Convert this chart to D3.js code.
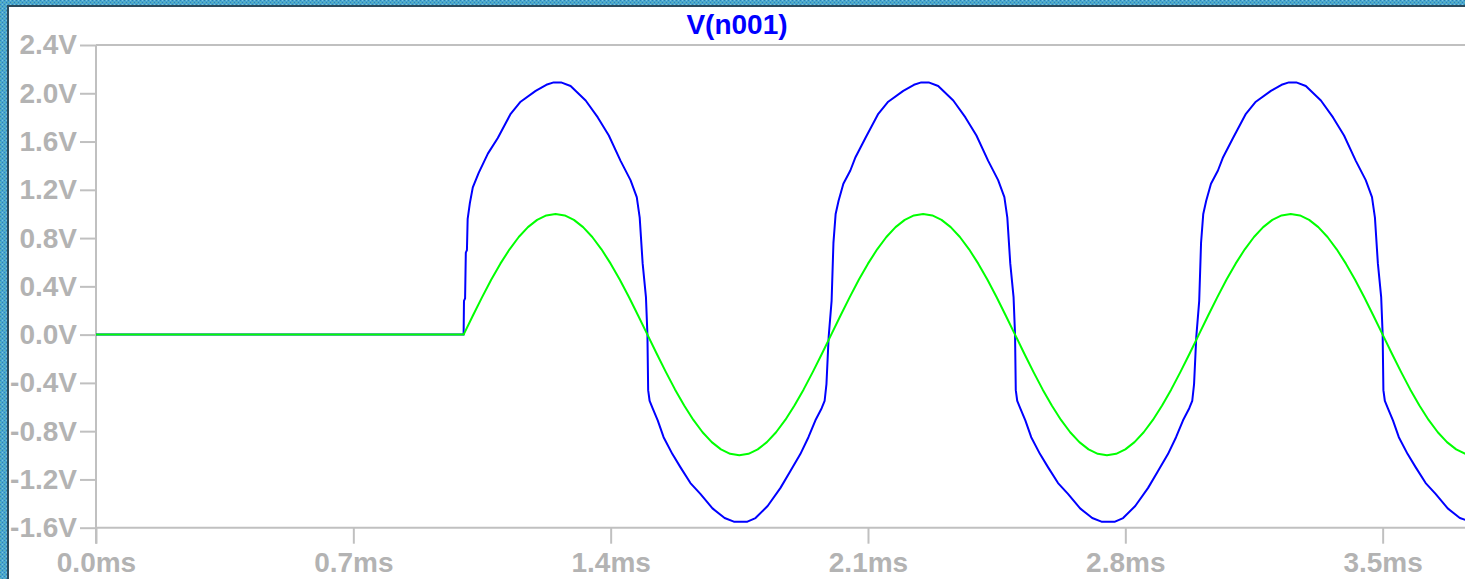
<!DOCTYPE html>
<html>
<head>
<meta charset="utf-8">
<script src="https://cdn.jsdelivr.net/npm/d3@7"></script>
<style>
  html, body { margin: 0; padding: 0; background: #ffffff; overflow: hidden; }
  svg { display: block; }
</style>
</head>
<body>
<svg id="chart" width="1465" height="579"></svg>
<script>
// ---------------- data ----------------
const chartTitle = "V(n001)";
const yTickValues = [2.4, 2.0, 1.6, 1.2, 0.8, 0.4, 0.0, -0.4, -0.8, -1.2, -1.6];
const yTickLabels = ["2.4V", "2.0V", "1.6V", "1.2V", "0.8V", "0.4V", "0.0V", "-0.4V", "-0.8V", "-1.2V", "-1.6V"];
const xTickValues = [0.0, 0.7, 1.4, 2.1, 2.8, 3.5];
const xTickLabels = ["0.0ms", "0.7ms", "1.4ms", "2.1ms", "2.8ms", "3.5ms"];

// blue trace V(n001): [time (ms), volts]
const blueSeries = [
  [0.000, 0.00], [1.000, 0.00], [1.001, 0.28], [1.004, 0.30], [1.006, 0.68], [1.009, 0.70],
  [1.011, 0.96], [1.017, 1.09], [1.025, 1.22], [1.041, 1.34], [1.066, 1.50], [1.093, 1.63],
  [1.128, 1.83], [1.155, 1.93], [1.196, 2.02], [1.225, 2.07], [1.245, 2.09], [1.265, 2.09],
  [1.291, 2.06], [1.332, 1.94], [1.365, 1.80], [1.395, 1.65], [1.427, 1.44], [1.454, 1.28],
  [1.471, 1.14], [1.479, 0.97], [1.487, 0.59], [1.496, 0.31], [1.500, 0.00], [1.502, -0.46],
  [1.506, -0.55], [1.514, -0.61], [1.528, -0.71], [1.544, -0.85], [1.568, -0.99], [1.590, -1.10],
  [1.617, -1.23], [1.644, -1.32], [1.677, -1.44], [1.710, -1.52], [1.735, -1.55], [1.772, -1.55],
  [1.794, -1.52], [1.827, -1.42], [1.862, -1.27], [1.889, -1.13], [1.916, -0.99], [1.938, -0.85],
  [1.957, -0.71], [1.974, -0.61], [1.982, -0.55], [1.987, -0.41], [1.993, -0.02], [2.001, 0.28],
  [2.006, 0.76], [2.012, 1.00], [2.020, 1.11], [2.033, 1.25], [2.052, 1.36], [2.066, 1.47],
  [2.093, 1.63], [2.128, 1.83], [2.155, 1.93], [2.196, 2.02], [2.225, 2.07], [2.245, 2.09],
  [2.265, 2.09], [2.291, 2.06], [2.332, 1.94], [2.365, 1.80], [2.395, 1.65], [2.427, 1.44],
  [2.454, 1.28], [2.471, 1.14], [2.479, 0.97], [2.487, 0.59], [2.496, 0.31], [2.500, 0.00],
  [2.502, -0.46], [2.506, -0.55], [2.514, -0.61], [2.528, -0.71], [2.544, -0.85], [2.568, -0.99],
  [2.590, -1.10], [2.617, -1.23], [2.644, -1.32], [2.677, -1.44], [2.710, -1.52], [2.735, -1.55],
  [2.772, -1.55], [2.794, -1.52], [2.827, -1.42], [2.862, -1.27], [2.889, -1.13], [2.916, -0.99],
  [2.938, -0.85], [2.957, -0.71], [2.974, -0.61], [2.982, -0.55], [2.987, -0.41], [2.993, -0.02],
  [3.001, 0.28], [3.006, 0.76], [3.012, 1.00], [3.020, 1.11], [3.033, 1.25], [3.052, 1.36],
  [3.066, 1.47], [3.093, 1.63], [3.128, 1.83], [3.155, 1.93], [3.196, 2.02], [3.225, 2.07],
  [3.245, 2.09], [3.265, 2.09], [3.291, 2.06], [3.332, 1.94], [3.365, 1.80], [3.395, 1.65],
  [3.427, 1.44], [3.454, 1.28], [3.471, 1.14], [3.479, 0.97], [3.487, 0.59], [3.496, 0.31],
  [3.500, 0.00], [3.502, -0.46], [3.506, -0.55], [3.514, -0.61], [3.528, -0.71], [3.544, -0.85],
  [3.568, -0.99], [3.590, -1.10], [3.617, -1.23], [3.644, -1.32], [3.677, -1.44], [3.710, -1.52],
  [3.740, -1.55]
];

// green trace: flat until 1.0 ms, then samples every 0.025 ms
const greenStartTime = 1.0;
const greenStepMs = 0.025;
const greenValues = [
  0.000, 0.156, 0.309, 0.454, 0.588, 0.707, 0.809, 0.891, 0.951, 0.988,
  1.000, 0.988, 0.951, 0.891, 0.809, 0.707, 0.588, 0.454, 0.309, 0.156,
  0.000, -0.156, -0.309, -0.454, -0.588, -0.707, -0.809, -0.891, -0.951, -0.988,
  -1.000, -0.988, -0.951, -0.891, -0.809, -0.707, -0.588, -0.454, -0.309, -0.156,
  0.000, 0.156, 0.309, 0.454, 0.588, 0.707, 0.809, 0.891, 0.951, 0.988,
  1.000, 0.988, 0.951, 0.891, 0.809, 0.707, 0.588, 0.454, 0.309, 0.156,
  0.000, -0.156, -0.309, -0.454, -0.588, -0.707, -0.809, -0.891, -0.951, -0.988,
  -1.000, -0.988, -0.951, -0.891, -0.809, -0.707, -0.588, -0.454, -0.309, -0.156,
  0.000, 0.156, 0.309, 0.454, 0.588, 0.707, 0.809, 0.891, 0.951, 0.988,
  1.000, 0.988, 0.951, 0.891, 0.809, 0.707, 0.588, 0.454, 0.309, 0.156,
  0.000, -0.156, -0.309, -0.454, -0.588, -0.707, -0.809, -0.891, -0.951, -0.988,
  -1.000
];

// ---------------- drawing ----------------
const W = 1465, H = 579;
const svg = d3.select("#chart");

// textured blue frame
const defs = svg.append("defs");
const pat = defs.append("pattern").attr("id", "tex").attr("patternUnits", "userSpaceOnUse")
  .attr("width", 4).attr("height", 4);
pat.append("rect").attr("width", 4).attr("height", 4).attr("fill", "#4aa6cf");
pat.append("rect").attr("x", 0).attr("y", 0).attr("width", 1).attr("height", 1).attr("fill", "#2f86b3");
pat.append("rect").attr("x", 2).attr("y", 2).attr("width", 1).attr("height", 1).attr("fill", "#2f86b3");
pat.append("rect").attr("x", 2).attr("y", 0).attr("width", 1).attr("height", 1).attr("fill", "#7cc6dd");
pat.append("rect").attr("x", 0).attr("y", 2).attr("width", 1).attr("height", 1).attr("fill", "#69b9a8");

svg.append("rect").attr("width", W).attr("height", H).attr("fill", "url(#tex)");
svg.append("rect").attr("x", 7).attr("y", 5).attr("width", W).attr("height", H).attr("fill", "#2b4a5c");
svg.append("rect").attr("x", 9).attr("y", 7).attr("width", W).attr("height", H).attr("fill", "#ffffff");

const x = d3.scaleLinear().domain([0, 3.724]).range([96, 1465]);
const y = d3.scaleLinear().domain([-1.6, 2.4]).range([527.7, 45]);

const gray = "#c0c0c0";
const labelGray = "#b3b3b3";
const font = "'Liberation Sans', Arial, sans-serif";

// axes
const yAxis = d3.axisLeft(y).tickValues(yTickValues)
  .tickFormat((d, i) => yTickLabels[i]).tickSize(16).tickPadding(3);
const gy = svg.append("g").attr("transform", `translate(${x(0)},0)`).call(yAxis);

const xAxis = d3.axisBottom(x).tickValues(xTickValues)
  .tickFormat((d, i) => xTickLabels[i]).tickSize(16).tickPadding(8);
const gx = svg.append("g").attr("transform", `translate(0,${y(-1.6)})`).call(xAxis);

[gx, gy].forEach(g => {
  g.select(".domain").remove();
  g.selectAll(".tick line").attr("stroke", gray).attr("stroke-width", 2);
  g.selectAll(".tick text").attr("fill", labelGray).style("font-family", font)
    .style("font-size", "28px").style("font-weight", "bold");
});

// frame lines
svg.append("line").attr("x1", x(0)).attr("x2", W).attr("y1", y(2.4)).attr("y2", y(2.4))
  .attr("stroke", gray).attr("stroke-width", 2);
svg.append("line").attr("x1", x(0)).attr("x2", W).attr("y1", y(-1.6)).attr("y2", y(-1.6))
  .attr("stroke", gray).attr("stroke-width", 2);
svg.append("line").attr("x1", x(0)).attr("x2", x(0)).attr("y1", y(2.4)).attr("y2", y(-1.6) + 16)
  .attr("stroke", gray).attr("stroke-width", 2);

// title
svg.append("text").attr("x", 737).attr("y", 34).attr("text-anchor", "middle")
  .attr("fill", "#0000ff").style("font-family", font).style("font-size", "28px")
  .style("font-weight", "bold").text(chartTitle);

// clip
defs.append("clipPath").attr("id", "plotclip").append("rect")
  .attr("x", x(0)).attr("y", y(2.4)).attr("width", W - x(0)).attr("height", y(-1.6) - y(2.4));

const line = d3.line().x(d => x(d[0])).y(d => y(d[1])).curve(d3.curveLinear);

const greenSeries = [[0, 0]].concat(greenValues.map((v, i) => [greenStartTime + i * greenStepMs, v]));

const plot = svg.append("g").attr("clip-path", "url(#plotclip)");
plot.append("path").datum(blueSeries).attr("d", line)
  .attr("fill", "none").attr("stroke", "#0000ff").attr("stroke-width", 2).attr("stroke-linejoin", "round");
plot.append("path").datum(greenSeries).attr("d", line)
  .attr("fill", "none").attr("stroke", "#00ff00").attr("stroke-width", 2).attr("stroke-linejoin", "round");
</script>
</body>
</html>
